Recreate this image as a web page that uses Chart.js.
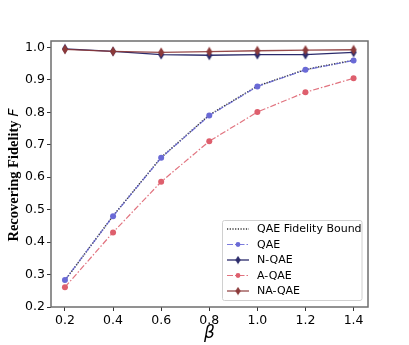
<!DOCTYPE html>
<html lang="en">
<head>
  <meta charset="UTF-8" />
  <title>Recovering Fidelity</title>
  <script src="https://cdn.jsdelivr.net/npm/chart.js"></script>
  <style>
    html, body { margin: 0; padding: 0; background: #fff; }
    #wrap { width: 409px; height: 345px; }
  </style>
</head>
<body>
  <div id="wrap"><canvas id="fidelityChart" width="409" height="345"></canvas></div>

  <script>
    // values
    const betas = [0.2, 0.4, 0.6, 0.8, 1.0, 1.2, 1.4];
    const boundVals = [0.282, 0.481, 0.661, 0.792, 0.881, 0.932, 0.961];
    const qaeVals = [0.283, 0.480, 0.660, 0.790, 0.880, 0.931, 0.960];
    const nqaeVals = [0.996, 0.988, 0.978, 0.976, 0.978, 0.978, 0.985];
    const aqaeVals = [0.261, 0.430, 0.586, 0.711, 0.801, 0.862, 0.905];
    const naqaeVals = [0.994, 0.988, 0.985, 0.987, 0.990, 0.992, 0.993];
    const xTicks = [0.2, 0.4, 0.6, 0.8, 1.0, 1.2, 1.4];
    const yTicks = [0.2, 0.3, 0.4, 0.5, 0.6, 0.7, 0.8, 0.9, 1.0];

    const pts = (ys) => betas.map((b, i) => ({ x: b, y: ys[i] }));

    // thin diamond marker like matplotlib 'd'
    function thinDiamond(color) {
      const c = document.createElement("canvas");
      c.width = 8; c.height = 11;
      const g = c.getContext("2d");
      g.fillStyle = color;
      g.beginPath();
      g.moveTo(4, 0.5); g.lineTo(7, 5.5); g.lineTo(4, 10.5); g.lineTo(1, 5.5);
      g.closePath();
      g.fill();
      return c;
    }

    const font = "'DejaVu Sans', sans-serif";

    const legendBox = {
      id: "legendBox",
      afterDraw(chart) {
        const ctx = chart.ctx;
        const x0 = 222.5, y0 = 220.5, w = 139.5, h = 80;
        ctx.save();
        ctx.fillStyle = "rgba(255,255,255,0.85)";
        ctx.strokeStyle = "#d0d0d0";
        ctx.lineWidth = 1;
        ctx.beginPath();
        ctx.roundRect(x0, y0, w, h, 2);
        ctx.fill();
        ctx.stroke();
        const rows = [229, 244.5, 260, 275.5, 291];
        chart.data.datasets.forEach((ds, i) => {
          const y = rows[i];
          ctx.strokeStyle = ds.borderColor;
          ctx.lineWidth = ds.borderWidth;
          ctx.setLineDash(ds.borderDash || []);
          ctx.beginPath();
          ctx.moveTo(227, y); ctx.lineTo(249, y);
          ctx.stroke();
          ctx.setLineDash([]);
          if (ds.pointRadius > 0) {
            if (ds.pointStyle === "circle") {
              ctx.fillStyle = ds.pointBackgroundColor;
              ctx.beginPath(); ctx.arc(238, y, 2.4, 0, Math.PI * 2); ctx.fill();
            } else {
              ctx.drawImage(ds.pointStyle, 234.5, y - 4.5, 7, 9);
            }
          }
          ctx.fillStyle = "#000";
          ctx.font = "11px " + font;
          ctx.textBaseline = "middle";
          ctx.fillText(ds.label, 257, y + 0.5);
        });
        ctx.restore();
      }
    };

    const frameAndTitles = {
      id: "frameAndTitles",
      afterDraw(chart) {
        const ctx = chart.ctx;
        const a = chart.chartArea;
        ctx.save();
        ctx.strokeStyle = "#6e6e6e";
        ctx.lineWidth = 1.5;
        ctx.strokeRect(a.left, a.top, a.right - a.left, a.bottom - a.top);
        // x title
        ctx.fillStyle = "#000";
        ctx.font = "italic 17px " + font;
        ctx.textAlign = "center";
        ctx.textBaseline = "middle";
        ctx.fillText("\u03b2", (a.left + a.right) / 2, 334);
        // y title: bold serif with italic F
        ctx.translate(14, 175);
        ctx.rotate(-Math.PI / 2);
        const part1 = "Recovering Fidelity ";
        const f1 = "bold 14.5px 'Liberation Serif', serif";
        const f2 = "italic 14.5px 'DejaVu Sans', sans-serif";
        ctx.font = f1;
        const w1 = ctx.measureText(part1).width;
        ctx.font = f2;
        const w2 = ctx.measureText("F").width;
        const start = -(w1 + w2) / 2;
        ctx.textAlign = "left";
        ctx.font = f1;
        ctx.fillText(part1, start, 0);
        ctx.font = f2;
        ctx.fillText("F", start + w1, 0);
        ctx.restore();
      }
    };

    const ctx = document.getElementById("fidelityChart").getContext("2d");
    new Chart(ctx, {
      type: "line",
      data: {
        datasets: [
          {
            label: "QAE Fidelity Bound",
            data: pts(boundVals),
            borderColor: "#333333",
            borderWidth: 1.5,
            borderDash: [1.2, 1.5],
            pointRadius: 0,
            order: 5
          },
          {
            label: "QAE",
            data: pts(qaeVals),
            borderColor: "rgba(100,100,215,0.85)",
            borderWidth: 1.2,
            borderDash: [6, 2, 1.5, 2],
            pointStyle: "circle",
            pointRadius: 3,
            pointBackgroundColor: "#6a6ad6",
            pointBorderWidth: 0,
            order: 4
          },
          {
            label: "N-QAE",
            data: pts(nqaeVals),
            borderColor: "#2b2b6b",
            borderWidth: 1.3,
            pointStyle: thinDiamond("#2b2b6b"),
            pointRadius: 4,
            order: 3
          },
          {
            label: "A-QAE",
            data: pts(aqaeVals),
            borderColor: "rgba(220,90,105,0.85)",
            borderWidth: 1.2,
            borderDash: [6, 2, 1.5, 2],
            pointStyle: "circle",
            pointRadius: 3,
            pointBackgroundColor: "#de5f6d",
            pointBorderWidth: 0,
            order: 2
          },
          {
            label: "NA-QAE",
            data: pts(naqaeVals),
            borderColor: "rgba(140,55,55,0.9)",
            borderWidth: 1.3,
            pointStyle: thinDiamond("#8c3a3a"),
            pointRadius: 4,
            order: 1
          }
        ]
      },
      options: {
        responsive: false,
        animation: false,
        layout: { padding: { left: 0, right: 41, top: 41, bottom: 0 } },
        plugins: {
          legend: { display: false },
          tooltip: { enabled: false }
        },
        scales: {
          x: {
            type: "linear",
            min: 0.142,
            max: 1.46,
            afterBuildTicks: (s) => { s.ticks = xTicks.map(v => ({ value: v })); },
            afterFit: (s) => { s.height = 38; },
            grid: { drawOnChartArea: false, drawTicks: true, tickLength: 4, color: "#333" },
            border: { display: false },
            ticks: {
              color: "#000",
              font: { family: font, size: 12.5 },
              padding: 2,
              maxRotation: 0,
              callback: (v) => Number(v).toFixed(1)
            }
          },
          y: {
            min: 0.2,
            max: 1.02,
            afterBuildTicks: (s) => { s.ticks = yTicks.map(v => ({ value: v })); },
            afterFit: (s) => { s.width = 51; },
            grid: { drawOnChartArea: false, drawTicks: true, tickLength: 4, color: "#333" },
            border: { display: false },
            ticks: {
              color: "#000",
              font: { family: font, size: 12.5 },
              padding: 2,
              callback: (v) => Number(v).toFixed(1)
            }
          }
        }
      },
      plugins: [frameAndTitles, legendBox]
    });
  </script>
</body>
</html>
